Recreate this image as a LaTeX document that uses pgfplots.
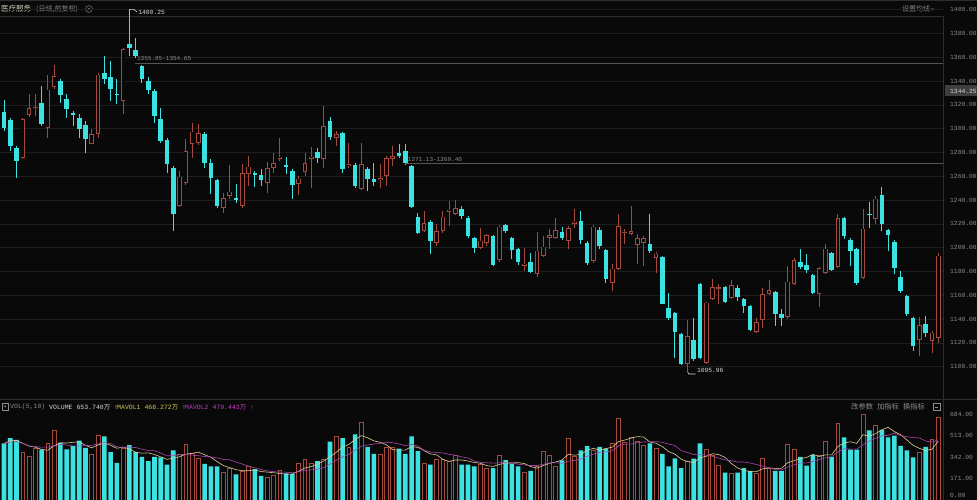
\documentclass[border=0pt]{standalone}
\usepackage{pgfplots}
\usepackage{pgfplotstable}
\pgfplotsset{compat=1.18}
\usepackage{fontspec}
\setmainfont{Liberation Mono}
\newfontfamily\cjk{Noto Sans CJK SC}
\newfontfamily\dejavu{DejaVu Sans}
\definecolor{bg}{RGB}{9,9,9}
\definecolor{upc}{RGB}{165,72,62}
\definecolor{dnc}{RGB}{60,226,226}
\definecolor{gridc}{RGB}{30,30,30}
\definecolor{txt}{RGB}{140,140,140}
\definecolor{sepc}{RGB}{46,46,46}
\definecolor{annl}{RGB}{85,85,85}
\definecolor{ma1}{RGB}{220,205,150}
\definecolor{ma2}{RGB}{170,70,175}
\definecolor{ma1t}{RGB}{210,200,90}
\definecolor{ma2t}{RGB}{195,60,195}
\definecolor{hdr}{RGB}{220,215,190}
\definecolor{tagc}{RGB}{62,62,62}
\definecolor{lite}{RGB}{215,215,215}

\pgfplotstableread{
i O H L C V
0 1314.3 1324.4 1298.3 1300.8 450
1 1307.6 1309.2 1281.5 1285.7 493
2 1284.0 1285.7 1258.8 1273.1 478
6 1321.9 1336.1 1302.5 1304.2 400
9 1340.3 1342.0 1321.9 1328.6 456
10 1325.2 1329.4 1309.3 1316.8 402
11 1313.4 1315.1 1302.5 1311.8 428
12 1309.2 1312.6 1292.5 1300.0 473
13 1303.4 1306.7 1279.8 1291.6 414
16 1347.1 1361.3 1337.8 1342.0 507
17 1343.7 1357.1 1323.5 1333.6 380
18 1329.4 1342.0 1321.0 1328.6 295
20 1371.4 1400.25 1361.3 1368.1 436
21 1366.4 1376.5 1359.7 1361.3 380
22 1353.0 1353.8 1338.7 1342.0 343
23 1340.3 1343.7 1329.4 1332.8 310
24 1332.0 1333.6 1305.0 1311.0 343
25 1308.4 1317.6 1288.2 1289.9 338
26 1290.8 1292.5 1263.0 1270.6 281
27 1267.2 1268.9 1214.3 1228.6 394
32 1295.8 1297.5 1267.2 1271.4 287
33 1271.4 1274.8 1245.4 1258.8 267
34 1257.1 1258.0 1233.6 1235.3 267
37 1242.0 1253.8 1237.8 1240.3 203
40 1263.0 1264.7 1251.3 1261.3 245
41 1261.3 1266.4 1252.1 1257.1 191
45 1269.7 1276.5 1262.2 1268.1 211
46 1264.7 1266.4 1241.2 1252.9 205
50 1280.7 1284.0 1271.4 1275.6 310
52 1306.7 1310.1 1290.8 1293.3 464
54 1296.6 1297.5 1263.0 1266.4 493
56 1269.7 1271.4 1250.4 1252.1 521
58 1266.4 1268.1 1247.9 1258.0 422
59 1258.0 1271.4 1252.1 1255.5 366
63 1279.8 1287.4 1275.6 1277.3 408
64 1281.5 1287.4 1269.4 1271.1 366
65 1268.9 1269.7 1233.6 1234.4 507
66 1226.1 1229.4 1211.8 1212.6 388
68 1221.9 1223.5 1195.0 1205.9 281
73 1232.8 1235.3 1224.4 1226.9 281
74 1225.2 1226.9 1208.4 1210.1 281
75 1208.4 1209.3 1195.8 1200.0 267
78 1210.1 1211.0 1184.8 1185.7 253
80 1219.3 1220.2 1212.6 1214.3 318
81 1208.4 1209.3 1190.8 1198.3 290
82 1199.2 1200.0 1185.7 1188.2 267
84 1188.2 1195.8 1179.0 1179.8 231
89 1213.5 1217.7 1206.7 1208.4 315
92 1222.7 1231.1 1203.4 1206.7 394
93 1204.2 1205.9 1185.7 1187.4 428
95 1215.1 1217.7 1199.2 1201.7 422
96 1198.3 1199.2 1170.6 1173.9 408
103 1203.4 1228.6 1195.8 1197.5 450
105 1192.4 1193.3 1152.2 1153.0 366
106 1149.6 1162.2 1139.5 1141.2 267
107 1145.4 1146.2 1107.6 1129.4 332
108 1127.7 1128.6 1101.7 1102.5 253
110 1122.7 1141.2 1105.0 1106.7 329
111 1169.8 1170.6 1106.7 1107.6 450
115 1167.2 1168.1 1153.8 1154.6 217
117 1166.4 1168.9 1155.5 1158.8 217
118 1157.2 1158.0 1145.4 1151.3 253
119 1151.3 1152.1 1130.3 1131.1 231
123 1163.0 1163.9 1134.5 1144.5 231
124 1144.5 1148.7 1134.5 1141.2 231
127 1188.2 1199.2 1182.4 1184.0 343
128 1185.7 1195.0 1179.0 1181.5 273
129 1177.3 1178.2 1161.3 1162.2 357
132 1195.8 1196.6 1180.7 1181.5 343
134 1225.2 1226.1 1207.6 1210.1 498
135 1206.7 1208.4 1184.9 1197.5 400
136 1199.2 1200.0 1168.9 1170.6 400
138 1228.6 1238.6 1216.8 1227.7 554
140 1244.5 1251.3 1214.3 1220.2 557
141 1215.1 1216.0 1197.5 1210.9 498
142 1205.0 1206.7 1178.2 1183.2 512
143 1175.6 1180.7 1162.2 1163.9 430
144 1159.7 1160.5 1142.9 1144.5 394
145 1141.2 1142.0 1113.5 1117.6 338
147 1136.1 1142.9 1125.2 1128.6 422
}\dn

\pgfplotstableread{
i O H L C V
3 1275.6 1309.2 1274.8 1308.4 380
4 1311.8 1329.4 1310.1 1317.6 343
5 1317.6 1329.4 1311.0 1318.4 408
7 1300.8 1345.4 1292.5 1332.8 450
8 1335.3 1353.8 1333.6 1344.5 557
14 1287.4 1300.0 1287.4 1295.8 360
15 1295.8 1347.1 1292.5 1345.4 515
19 1323.5 1368.1 1312.6 1367.2 408
28 1235.3 1264.7 1234.4 1259.7 366
29 1254.6 1291.6 1253.0 1281.5 442
30 1287.4 1305.0 1275.6 1297.5 374
31 1288.2 1304.2 1286.6 1296.6 329
35 1233.6 1246.2 1229.4 1242.0 217
36 1243.7 1269.7 1241.2 1247.1 253
38 1235.3 1270.6 1233.6 1263.0 225
39 1262.2 1277.3 1252.1 1268.1 267
42 1254.6 1272.3 1246.2 1267.2 183
43 1267.2 1279.8 1263.0 1271.4 197
44 1274.8 1292.5 1273.1 1276.5 239
47 1253.8 1260.5 1244.5 1258.0 295
48 1263.9 1279.8 1260.5 1271.4 324
49 1274.8 1284.3 1250.4 1276.5 295
51 1274.8 1319.3 1267.2 1302.5 324
53 1292.5 1298.3 1285.7 1295.8 507
55 1268.9 1288.2 1267.2 1270.6 422
57 1249.6 1288.2 1248.7 1270.6 619
60 1257.1 1270.6 1250.4 1258.8 366
61 1260.5 1277.3 1252.1 1275.6 422
62 1274.8 1285.7 1268.9 1277.3 422
67 1214.3 1231.1 1213.0 1221.0 295
69 1204.2 1220.2 1201.7 1214.3 324
70 1214.3 1231.1 1212.6 1226.1 324
71 1230.3 1239.5 1218.5 1232.0 310
72 1228.6 1240.3 1227.0 1233.6 352
76 1200.0 1216.8 1199.2 1205.9 281
77 1204.2 1211.8 1201.7 1210.9 255
79 1189.9 1219.3 1188.2 1217.7 357
83 1184.9 1200.0 1180.7 1186.6 217
85 1178.2 1213.5 1175.6 1197.5 267
86 1193.3 1210.1 1192.4 1200.9 386
87 1208.4 1216.0 1199.2 1210.9 357
88 1208.4 1225.2 1207.6 1215.1 267
90 1205.9 1218.5 1199.2 1216.8 493
91 1220.2 1232.8 1216.8 1221.9 346
94 1189.1 1219.3 1187.4 1217.7 394
97 1170.6 1186.6 1163.9 1182.4 450
98 1182.4 1228.6 1181.5 1218.5 647
99 1212.6 1216.0 1203.4 1213.5 459
100 1211.8 1235.3 1210.9 1214.3 498
101 1202.5 1211.8 1186.6 1208.4 464
102 1204.2 1210.1 1184.9 1208.4 436
104 1191.6 1196.6 1179.0 1195.0 408
109 1102.5 1139.5 1095.96 1126.0 310
112 1103.4 1154.6 1102.5 1153.8 400
113 1157.2 1174.0 1156.3 1167.2 352
114 1165.6 1169.8 1153.0 1166.4 276
116 1158.0 1173.1 1157.2 1168.9 211
120 1129.4 1141.2 1128.6 1137.8 211
121 1139.5 1166.4 1132.8 1161.3 329
122 1161.3 1173.1 1160.5 1164.7 253
125 1142.0 1184.9 1140.3 1171.5 442
126 1169.8 1191.6 1168.9 1189.9 402
130 1161.3 1184.0 1150.4 1183.2 357
131 1179.0 1203.4 1178.2 1199.2 464
133 1184.0 1228.6 1183.2 1225.2 611
137 1174.8 1232.8 1173.9 1216.0 684
139 1224.4 1243.7 1220.2 1241.2 597
146 1122.7 1142.0 1109.3 1135.3 380
148 1121.9 1130.3 1111.8 1128.6 484
149 1124.4 1195.8 1120.2 1193.3 653.74
}\up

\pgfplotstableread{
i m5 m10
0 450 450
1 471 460
2 474 465
3 450 450
4 429 430
5 420 425
6 402 420
7 396 420
8 432 430
9 454 442
10 453 437
11 459 430
12 463 430
13 435 433
14 415 435
15 438 446
16 454 456
17 435 449
18 411 423
19 421 418
20 405 422
21 380 417
22 372 404
23 375 393
24 362 392
25 343 374
26 323 351
27 333 353
28 344 360
29 364 363
30 371 357
31 381 352
32 360 346
33 340 342
34 305 335
35 273 322
36 258 320
37 241 301
38 233 286
39 233 269
40 239 256
41 226 242
42 222 232
43 217 225
44 211 222
45 204 221
46 207 217
47 229 226
48 255 236
49 266 239
50 286 245
51 310 258
52 343 286
53 380 317
54 420 343
55 442 364
56 481 396
57 512 428
58 495 438
59 470 445
60 459 450
61 439 460
62 400 456
63 397 446
64 397 433
65 425 442
66 418 429
67 393 396
68 367 382
69 359 378
70 322 374
71 307 363
72 318 356
73 318 343
74 310 334
75 298 310
76 292 300
77 273 296
78 267 293
79 283 296
80 293 296
81 295 294
82 297 285
83 290 279
84 265 274
85 254 274
86 274 284
87 292 294
88 302 296
89 318 292
90 364 309
91 356 315
92 363 327
93 395 348
94 411 365
95 397 380
96 409 382
97 420 392
98 464 430
99 477 444
100 492 445
101 504 456
102 501 461
103 461 463
104 451 464
105 425 459
106 385 445
107 365 433
108 325 393
109 306 378
110 298 362
111 335 360
112 348 357
113 368 347
114 361 334
115 339 319
116 291 313
117 255 302
118 235 302
119 226 294
120 225 282
121 248 270
122 255 255
123 251 243
124 251 238
125 297 261
126 312 280
127 330 293
128 338 295
129 363 307
130 346 322
131 359 335
132 359 344
133 426 382
134 455 409
135 463 405
136 450 405
137 519 439
138 507 467
139 527 491
140 558 511
141 578 514
142 544 531
143 519 513
144 478 503
145 434 496
146 411 494
147 393 468
148 404 461
149 468 479
}\ma

\pgfplotsset{
  chartaxis/.style={
    scale only axis, anchor=south west,
    xmin=-0.638, xmax=149.76,
    axis line style={draw=none}, xtick=\empty,
    major tick length=0pt,
    yticklabel pos=right,
    /pgf/number format/assume math mode=true,
    yticklabel style={font=\fontsize{6.3}{7}\selectfont, text=txt, anchor=west, inner sep=0pt, xshift=7pt,
      /pgf/number format/.cd, fixed, fixed zerofill, precision=2, 1000 sep={}},
  }
}

\begin{document}
\begin{tikzpicture}[x=1pt,y=1pt]
\fill[bg] (0,0) rectangle (977,500);
% frame lines
\draw[sepc, line width=0.6pt] (943,0) -- (943,484);
\draw[sepc, line width=0.6pt] (0,101) -- (977,101);
\draw[sepc, line width=0.5pt] (0,484) -- (943,484);
\draw[sepc, line width=0.8pt] (0,499.4) -- (977,499.4);

% header
\node[anchor=west, inner sep=0pt, text=hdr, font=\cjk\fontsize{7.5}{8}\selectfont] at (1,491) {医疗服务};
\node[anchor=west, inner sep=0pt, text=txt, font=\cjk\fontsize{7}{8}\selectfont] at (36,491) {(日线,前复权)};
\draw[txt, line width=0.5pt] (89,491) circle (3.4);
\fill[txt] (89,491) circle (1.2);
\node[anchor=east, inner sep=0pt, text=txt, font=\cjk\fontsize{7}{8}\selectfont] at (934,491) {设置均线\,{\dejavu\fontsize{5}{6}\selectfont ▾}};

% price axis
\begin{axis}[chartaxis, at={(0,102)}, width=943pt, height=380pt,
  ymin=1089.92, ymax=1409.24, ytick={1100,1120,...,1400},
  ymajorgrids, grid style={gridc, line width=0.5pt}, clip=false]
\addplot[dnc, line width=0.9pt, mark=none, quiver={u=0, v=\thisrow{H}-\thisrow{L}}] table[x=i, y=L] {\dn};
\addplot[upc, line width=0.9pt, mark=none, quiver={u=0, v=\thisrow{H}-\thisrow{L}}] table[x=i, y=L] {\up};
\addplot[dnc, line width=4.6pt, mark=none, quiver={u=0, v={max(\thisrow{O}-\thisrow{C},0.9)}}] table[x=i, y=C] {\dn};
\addplot[upc, line width=4.6pt, mark=none, quiver={u=0, v={max(\thisrow{C}-\thisrow{O},0.9)}}] table[x=i, y=O] {\up};
\addplot[bg, line width=2.8pt, mark=none, quiver={u=0, v={max(\thisrow{C}-\thisrow{O}-1.52,0.001)}}] table[x=i, y expr=\thisrow{O}+0.76] {\up};
% annotations
\draw[annl, line width=0.6pt] (axis cs:20.9,1355.25) -- (axis cs:149.76,1355.25);
\draw[annl, line width=0.6pt] (axis cs:64,1270.6) -- (axis cs:149.76,1270.6);
\node[anchor=west, inner sep=0pt, text=txt, font=\fontsize{6}{7}\selectfont] at (axis cs:21.2,1359.0) {1355.85-1354.65};
\node[anchor=west, inner sep=0pt, text=txt, font=\fontsize{6}{7}\selectfont] at (axis cs:64.4,1274.0) {1271.13-1269.40};
\draw[lite, line width=0.6pt] (axis cs:20,1400.25) -- (axis cs:20.7,1400.25) -- (axis cs:21.2,1398.0);
\node[anchor=west, inner sep=0pt, text=lite, font=\fontsize{6.3}{7}\selectfont] at (axis cs:21.4,1397.5) {1400.25};
\draw[lite, line width=0.6pt] (axis cs:109,1095.96) -- (axis cs:109.2,1093.8) -- (axis cs:110.3,1093.8);
\node[anchor=west, inner sep=0pt, text=lite, font=\fontsize{6.3}{7}\selectfont] at (axis cs:110.5,1096.5) {1095.96};
\end{axis}

% current price tag
\fill[tagc] (945,403.5) rectangle (977,414.5);
\node[anchor=west, inner sep=0pt, text=lite, font=\fontsize{6.3}{7}\selectfont] at (950,409) {1344.25};

% volume header
\draw[txt, line width=0.5pt] (2,89.5) rectangle (8.5,96.5);
\node[inner sep=0pt, text=txt, font=\dejavu\fontsize{4.5}{5}\selectfont] at (5.25,93) {▾};
\node[anchor=west, inner sep=0pt, text=txt, font=\fontsize{6.5}{7}\selectfont] at (10,93) {VOL(5,10)};
\node[anchor=west, inner sep=0pt, text=lite, font=\fontsize{6.5}{7}\selectfont] at (49,93) {VOLUME 653.740{\cjk 万} ↑};
\node[anchor=west, inner sep=0pt, text=ma1t, font=\fontsize{6.5}{7}\selectfont] at (117,93) {MAVOL1 468.272{\cjk 万} ↑};
\node[anchor=west, inner sep=0pt, text=ma2t, font=\fontsize{6.5}{7}\selectfont] at (185,93) {MAVOL2 479.443{\cjk 万} ↑};
\node[anchor=west, inner sep=0pt, text=txt, font=\cjk\fontsize{7.3}{8}\selectfont] at (851,93) {改参数\hspace{4pt}加指标\hspace{4pt}换指标};
\draw[txt, line width=0.5pt] (933,89.5) rectangle (940,96.5);
\draw[txt, line width=0.5pt] (934.8,93) -- (938.2,93);

% volume axis
\begin{axis}[chartaxis, at={(0,0)}, width=943pt, height=86pt,
  ymin=0, ymax=684, ytick={171,342,513,684}]
\addplot[ybar, bar width=4.6pt, bar shift=0pt, draw=none, fill=dnc] table[x=i, y=V] {\dn};
\addplot[ybar, bar width=3.8pt, bar shift=0pt, draw=upc, line width=0.8pt, fill=bg] table[x=i, y=V] {\up};
\addplot[ma1, line width=0.6pt, mark=none] table[x=i, y=m5] {\ma};
\addplot[ma2, line width=0.6pt, mark=none] table[x=i, y=m10] {\ma};
\end{axis}
\node[anchor=west, inner sep=0pt, text=txt, font=\fontsize{6.3}{7}\selectfont] at (950,5) {0.00};

\pgfresetboundingbox
\useasboundingbox (0,0) rectangle (977,500);
\end{tikzpicture}
\end{document}
